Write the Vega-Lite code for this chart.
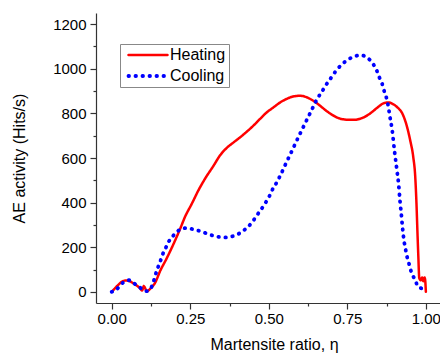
{
  "$schema": "https://vega.github.io/schema/vega-lite/v6.json",
  "width": 344,
  "height": 290,
  "autosize": {"type": "none"},
  "padding": {"left": 96, "top": 13, "right": 0, "bottom": 53},
  "background": "white",
  "config": {
    "view": {"stroke": null},
    "font": "Liberation Sans",
    "axis": {"grid": false, "domainColor": "#333", "tickColor": "#333", "labelColor": "#000", "titleColor": "#000", "domainWidth": 1.2, "tickWidth": 1.2, "labelFont": "Liberation Sans", "titleFont": "Liberation Sans", "titleFontWeight": "normal", "labelFlush": false}
  },
  "data": {
    "values": [
      {"eta": 0, "ae": 0, "series": "Heating"},
      {"eta": 0.01, "ae": 15, "series": "Heating"},
      {"eta": 0.02, "ae": 30, "series": "Heating"},
      {"eta": 0.032, "ae": 45, "series": "Heating"},
      {"eta": 0.045, "ae": 51, "series": "Heating"},
      {"eta": 0.058, "ae": 47, "series": "Heating"},
      {"eta": 0.069, "ae": 38, "series": "Heating"},
      {"eta": 0.08, "ae": 28, "series": "Heating"},
      {"eta": 0.09, "ae": 16, "series": "Heating"},
      {"eta": 0.097, "ae": 6, "series": "Heating"},
      {"eta": 0.102, "ae": 26, "series": "Heating"},
      {"eta": 0.106, "ae": 18, "series": "Heating"},
      {"eta": 0.111, "ae": 2, "series": "Heating"},
      {"eta": 0.12, "ae": 10, "series": "Heating"},
      {"eta": 0.128, "ae": 22, "series": "Heating"},
      {"eta": 0.138, "ae": 40, "series": "Heating"},
      {"eta": 0.154, "ae": 93, "series": "Heating"},
      {"eta": 0.175, "ae": 150, "series": "Heating"},
      {"eta": 0.202, "ae": 231, "series": "Heating"},
      {"eta": 0.218, "ae": 283, "series": "Heating"},
      {"eta": 0.233, "ae": 335, "series": "Heating"},
      {"eta": 0.255, "ae": 395, "series": "Heating"},
      {"eta": 0.276, "ae": 455, "series": "Heating"},
      {"eta": 0.297, "ae": 507, "series": "Heating"},
      {"eta": 0.324, "ae": 565, "series": "Heating"},
      {"eta": 0.345, "ae": 612, "series": "Heating"},
      {"eta": 0.366, "ae": 645, "series": "Heating"},
      {"eta": 0.387, "ae": 669, "series": "Heating"},
      {"eta": 0.409, "ae": 693, "series": "Heating"},
      {"eta": 0.43, "ae": 718, "series": "Heating"},
      {"eta": 0.451, "ae": 745, "series": "Heating"},
      {"eta": 0.472, "ae": 775, "series": "Heating"},
      {"eta": 0.494, "ae": 805, "series": "Heating"},
      {"eta": 0.515, "ae": 827, "series": "Heating"},
      {"eta": 0.536, "ae": 849, "series": "Heating"},
      {"eta": 0.557, "ae": 865, "series": "Heating"},
      {"eta": 0.578, "ae": 876, "series": "Heating"},
      {"eta": 0.6, "ae": 879, "series": "Heating"},
      {"eta": 0.621, "ae": 872, "series": "Heating"},
      {"eta": 0.64, "ae": 858, "series": "Heating"},
      {"eta": 0.66, "ae": 838, "series": "Heating"},
      {"eta": 0.68, "ae": 815, "series": "Heating"},
      {"eta": 0.7, "ae": 795, "series": "Heating"},
      {"eta": 0.72, "ae": 780, "series": "Heating"},
      {"eta": 0.745, "ae": 772, "series": "Heating"},
      {"eta": 0.769, "ae": 771, "series": "Heating"},
      {"eta": 0.795, "ae": 778, "series": "Heating"},
      {"eta": 0.823, "ae": 800, "series": "Heating"},
      {"eta": 0.845, "ae": 825, "series": "Heating"},
      {"eta": 0.865, "ae": 845, "series": "Heating"},
      {"eta": 0.881, "ae": 849, "series": "Heating"},
      {"eta": 0.895, "ae": 842, "series": "Heating"},
      {"eta": 0.91, "ae": 826, "series": "Heating"},
      {"eta": 0.925, "ae": 800, "series": "Heating"},
      {"eta": 0.939, "ae": 745, "series": "Heating"},
      {"eta": 0.95, "ae": 680, "series": "Heating"},
      {"eta": 0.96, "ae": 603, "series": "Heating"},
      {"eta": 0.966, "ae": 520, "series": "Heating"},
      {"eta": 0.97, "ae": 400, "series": "Heating"},
      {"eta": 0.973, "ae": 276, "series": "Heating"},
      {"eta": 0.976, "ae": 160, "series": "Heating"},
      {"eta": 0.979, "ae": 62, "series": "Heating"},
      {"eta": 0.984, "ae": 52, "series": "Heating"},
      {"eta": 0.988, "ae": 64, "series": "Heating"},
      {"eta": 0.992, "ae": 48, "series": "Heating"},
      {"eta": 0.996, "ae": 64, "series": "Heating"},
      {"eta": 0.998, "ae": 50, "series": "Heating"},
      {"eta": 1.0, "ae": 0, "series": "Heating"},
      {"eta": 0, "ae": 0, "series": "Cooling"},
      {"eta": 0.016, "ae": 12, "series": "Cooling"},
      {"eta": 0.035, "ae": 40, "series": "Cooling"},
      {"eta": 0.056, "ae": 52, "series": "Cooling"},
      {"eta": 0.076, "ae": 33, "series": "Cooling"},
      {"eta": 0.099, "ae": 11, "series": "Cooling"},
      {"eta": 0.111, "ae": 3, "series": "Cooling"},
      {"eta": 0.124, "ae": 15, "series": "Cooling"},
      {"eta": 0.133, "ae": 45, "series": "Cooling"},
      {"eta": 0.139, "ae": 75, "series": "Cooling"},
      {"eta": 0.146, "ae": 105, "series": "Cooling"},
      {"eta": 0.154, "ae": 134, "series": "Cooling"},
      {"eta": 0.161, "ae": 164, "series": "Cooling"},
      {"eta": 0.171, "ae": 194, "series": "Cooling"},
      {"eta": 0.181, "ae": 224, "series": "Cooling"},
      {"eta": 0.196, "ae": 252, "series": "Cooling"},
      {"eta": 0.215, "ae": 277, "series": "Cooling"},
      {"eta": 0.237, "ae": 286, "series": "Cooling"},
      {"eta": 0.258, "ae": 281, "series": "Cooling"},
      {"eta": 0.279, "ae": 273, "series": "Cooling"},
      {"eta": 0.3, "ae": 263, "series": "Cooling"},
      {"eta": 0.322, "ae": 252, "series": "Cooling"},
      {"eta": 0.343, "ae": 246, "series": "Cooling"},
      {"eta": 0.364, "ae": 244, "series": "Cooling"},
      {"eta": 0.385, "ae": 249, "series": "Cooling"},
      {"eta": 0.405, "ae": 261, "series": "Cooling"},
      {"eta": 0.427, "ae": 283, "series": "Cooling"},
      {"eta": 0.446, "ae": 310, "series": "Cooling"},
      {"eta": 0.462, "ae": 343, "series": "Cooling"},
      {"eta": 0.475, "ae": 368, "series": "Cooling"},
      {"eta": 0.49, "ae": 400, "series": "Cooling"},
      {"eta": 0.502, "ae": 429, "series": "Cooling"},
      {"eta": 0.513, "ae": 462, "series": "Cooling"},
      {"eta": 0.523, "ae": 485, "series": "Cooling"},
      {"eta": 0.534, "ae": 514, "series": "Cooling"},
      {"eta": 0.554, "ae": 574, "series": "Cooling"},
      {"eta": 0.574, "ae": 633, "series": "Cooling"},
      {"eta": 0.594, "ae": 693, "series": "Cooling"},
      {"eta": 0.613, "ae": 748, "series": "Cooling"},
      {"eta": 0.634, "ae": 808, "series": "Cooling"},
      {"eta": 0.655, "ae": 867, "series": "Cooling"},
      {"eta": 0.669, "ae": 897, "series": "Cooling"},
      {"eta": 0.682, "ae": 927, "series": "Cooling"},
      {"eta": 0.697, "ae": 957, "series": "Cooling"},
      {"eta": 0.712, "ae": 987, "series": "Cooling"},
      {"eta": 0.73, "ae": 1016, "series": "Cooling"},
      {"eta": 0.75, "ae": 1039, "series": "Cooling"},
      {"eta": 0.772, "ae": 1055, "series": "Cooling"},
      {"eta": 0.793, "ae": 1061, "series": "Cooling"},
      {"eta": 0.814, "ae": 1049, "series": "Cooling"},
      {"eta": 0.831, "ae": 1024, "series": "Cooling"},
      {"eta": 0.844, "ae": 991, "series": "Cooling"},
      {"eta": 0.852, "ae": 961, "series": "Cooling"},
      {"eta": 0.861, "ae": 932, "series": "Cooling"},
      {"eta": 0.867, "ae": 902, "series": "Cooling"},
      {"eta": 0.874, "ae": 872, "series": "Cooling"},
      {"eta": 0.879, "ae": 842, "series": "Cooling"},
      {"eta": 0.886, "ae": 782, "series": "Cooling"},
      {"eta": 0.893, "ae": 723, "series": "Cooling"},
      {"eta": 0.9, "ae": 633, "series": "Cooling"},
      {"eta": 0.908, "ae": 544, "series": "Cooling"},
      {"eta": 0.913, "ae": 487, "series": "Cooling"},
      {"eta": 0.918, "ae": 402, "series": "Cooling"},
      {"eta": 0.922, "ae": 346, "series": "Cooling"},
      {"eta": 0.926, "ae": 283, "series": "Cooling"},
      {"eta": 0.931, "ae": 224, "series": "Cooling"},
      {"eta": 0.935, "ae": 194, "series": "Cooling"},
      {"eta": 0.939, "ae": 164, "series": "Cooling"},
      {"eta": 0.945, "ae": 134, "series": "Cooling"},
      {"eta": 0.95, "ae": 105, "series": "Cooling"},
      {"eta": 0.957, "ae": 78, "series": "Cooling"},
      {"eta": 0.966, "ae": 52, "series": "Cooling"},
      {"eta": 0.976, "ae": 22, "series": "Cooling"},
      {"eta": 0.987, "ae": 15, "series": "Cooling"},
      {"eta": 0.998, "ae": 8, "series": "Cooling"},
      {"eta": 1.0, "ae": 5, "series": "Cooling"}
    ]
  },
  "mark": {"type": "line", "strokeCap": "round", "strokeJoin": "round", "interpolate": "monotone"},
  "encoding": {
    "x": {
      "field": "eta", "type": "quantitative",
      "scale": {"domain": [-0.05, 1.045], "nice": false, "zero": false},
      "axis": {
        "title": "Martensite ratio, η",
        "values": [0, 0.125, 0.25, 0.375, 0.5, 0.625, 0.75, 0.875, 1],
        "labelExpr": "(datum.value*4)%1===0 ? format(datum.value, '.2f') : ''",
        "tickSize": {"condition": {"test": "(datum.value*4)%1!==0", "value": 3}, "value": 6},
        "labelPadding": 2,
        "labelFontSize": 15,
        "titleFontSize": 16,
        "titlePadding": 10,
        "titleX": 178
      }
    },
    "y": {
      "field": "ae", "type": "quantitative",
      "scale": {"domain": [-50, 1250], "nice": false, "zero": false},
      "axis": {
        "title": "AE activity (Hits/s)",
        "values": [0, 100, 200, 300, 400, 500, 600, 700, 800, 900, 1000, 1100, 1200],
        "labelExpr": "datum.value%200===0 ? format(datum.value, 'd') : ''",
        "tickSize": {"condition": {"test": "datum.value%200!==0", "value": 3}, "value": 6},
        "labelPadding": 4,
        "labelFontSize": 15,
        "titleFontSize": 16,
        "titlePadding": 25
      }
    },
    "color": {
      "field": "series", "type": "nominal",
      "scale": {"domain": ["Heating", "Cooling"], "range": ["#ff0000", "#0000ff"]},
      "legend": {
        "title": null,
        "orient": "none",
        "legendX": 24,
        "legendY": 31,
        "padding": 3,
        "strokeColor": "#888",
        "fillColor": "white",
        "labelFontSize": 16,
        "labelFont": "Liberation Sans",
        "labelColor": "#000",
        "symbolType": "M-4,0H4",
        "symbolSize": 95,
        "symbolStrokeWidth": 3,
        "symbolOffset": 17,
        "labelOffset": 14,
        "rowPadding": 5,
        "encode": {"symbols": {"update": {"strokeCap": {"value": "round"}}}}
      }
    },
    "strokeDash": {
      "field": "series", "type": "nominal",
      "scale": {"domain": ["Heating", "Cooling"], "range": [[1, 0], [0.5, 6.5]]},
      "legend": {"title": null}
    },
    "strokeWidth": {
      "field": "series", "type": "nominal",
      "scale": {"domain": ["Heating", "Cooling"], "range": [2.5, 3.8]},
      "legend": null
    }
  }
}
